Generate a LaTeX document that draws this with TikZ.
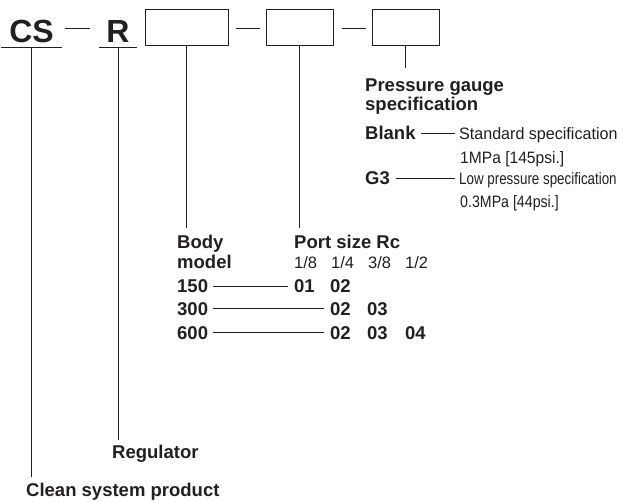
\documentclass[tikz,border=0pt]{standalone}
\usepackage{fontspec}
\setmainfont{Liberation Sans}
\usepackage{graphicx}
\definecolor{ink}{RGB}{35,31,32}
\tikzset{
  lbl/.style={inner sep=0pt, anchor=base west, text=ink, font=\bfseries\fontsize{18.5}{22}\selectfont, text height=13.2pt, text depth=0pt},
  txt/.style={inner sep=0pt, anchor=base west, text=ink, font=\fontsize{16.5}{20}\selectfont, text height=11.8pt, text depth=0pt},
  big/.style={inner sep=0pt, anchor=base, text=ink, font=\bfseries\fontsize{32}{36}\selectfont, text depth=4pt},
  codebox/.style={draw=ink, line width=1pt, minimum height=36pt, inner sep=0pt},
  ln/.style={draw=ink, line width=0.9pt}
}
\begin{document}
\begin{tikzpicture}[x=1pt,y=-1pt]
\useasboundingbox (0,0) rectangle (623,502);
% code row
\node[big, minimum width=61pt] (cs) at (31.5,43) {CS};
\node[big, minimum width=38pt] (r) at (118,43) {R};
\draw[ln] (cs.south west) -- (cs.south east);
\draw[ln] (r.south west) -- (r.south east);
\node[codebox, minimum width=83pt] (b1) at (186.5,28) {};
\node[codebox, minimum width=67pt] (b2) at (299.5,28) {};
\node[codebox, minimum width=67pt] (b3) at (405.5,28) {};
\draw[ln] ([xshift=3pt]cs.east |- b1.center) -- ([xshift=-9pt]r.west |- b1.center);
\draw[ln] ([xshift=7pt]b1.east) -- ([xshift=-6pt]b2.west);
\draw[ln] ([xshift=8pt]b2.east) -- ([xshift=-6pt]b3.west);
% pressure gauge
\node[lbl] (pg1) at (365,91.5) {Pressure gauge};
\node[lbl] (pg2) at (365,111) {specification};
\node[lbl] (blank) at (365,140) {Blank};
\node[txt] (std1) at (459,140) {\scalebox{0.975}[1]{Standard specification}};
\node[txt] (std2) at (460,164) {\scalebox{0.945}[1]{1MPa [145psi.]}};
\node[lbl] (g3) at (365,185) {G3};
\node[txt] (low1) at (459,185) {\scalebox{0.81}[1]{Low pressure specification}};
\node[txt] (low2) at (460,208) {\scalebox{0.86}[1]{0.3MPa [44psi.]}};
\draw[ln] ([xshift=5pt]blank.east) -- ([xshift=-4pt]blank.east -| std1.west);
\draw[ln] ([xshift=6pt]g3.east) -- ([xshift=-4pt]g3.east -| low1.west);
% body / port
\node[lbl] (body1) at (177,249) {Body};
\node[lbl] (body2) at (177,269) {model};
\node[lbl] (port) at (294,249) {Port size Rc};
\node[txt] (f18) at (294,269) {1/8};
\node[txt] (f14) at (331,269) {1/4};
\node[txt] (f38) at (368,269) {3/8};
\node[txt] (f12) at (405,269) {1/2};
\node[lbl] (m150) at (177,293) {150};
\node[lbl] (c150a) at (294,293) {01};
\node[lbl] (c150b) at (330,293) {02};
\node[lbl] (m300) at (177,315) {300};
\node[lbl] (c300a) at (330,315) {02};
\node[lbl] (c300b) at (367,315) {03};
\node[lbl] (m600) at (177,339) {600};
\node[lbl] (c600a) at (330,339) {02};
\node[lbl] (c600b) at (367,339) {03};
\node[lbl] (c600c) at (405,339) {04};
\draw[ln] ([xshift=5pt]m150.east) -- ([xshift=-6pt]m150.east -| c150a.west);
\draw[ln] ([xshift=5pt]m300.east) -- ([xshift=-6pt]m300.east -| c300a.west);
\draw[ln] ([xshift=5pt]m600.east) -- ([xshift=-6pt]m600.east -| c600a.west);
% bottom labels
\node[lbl] (reg) at (112,458) {Regulator};
\node[lbl] (clean) at (26,496) {Clean system product};
% leaders
\draw[ln] (cs.south) -- ([yshift=6pt]cs.south |- clean.north);
\draw[ln] (r.south) -- ([yshift=5pt]r.south |- reg.north);
\draw[ln] (b1.south) -- ([yshift=7.5pt]b1.south |- body1.north);
\draw[ln] (b2.south) -- ([yshift=7.5pt]b2.south |- port.north);
\draw[ln] (b3.south) -- ([yshift=10pt]b3.south |- pg1.north);
\end{tikzpicture}
\end{document}
